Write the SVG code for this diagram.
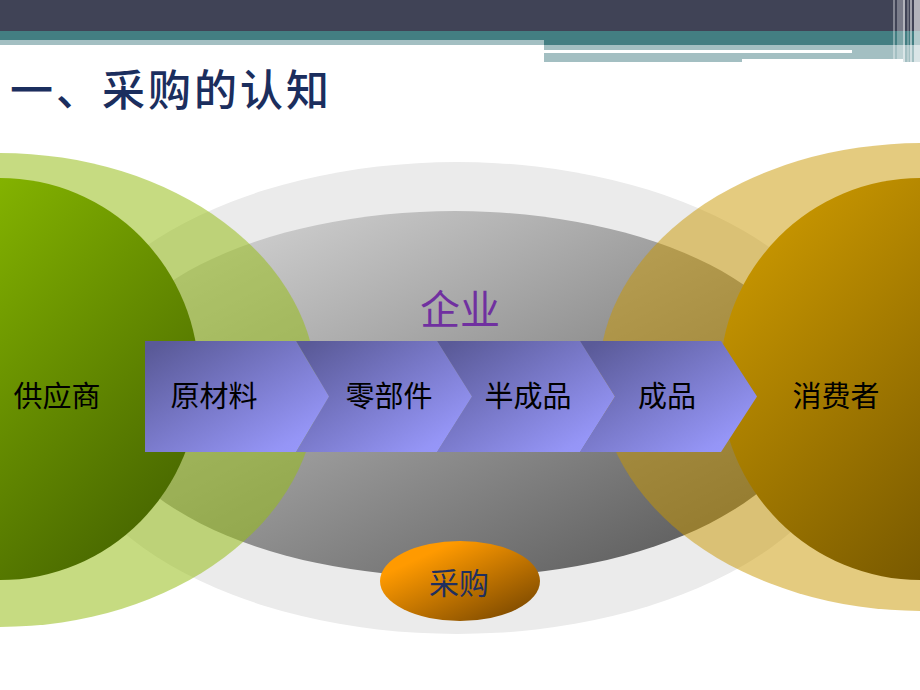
<svg xmlns="http://www.w3.org/2000/svg" width="920" height="690" viewBox="0 0 920 690">
<defs>
<linearGradient id="gGreen" x1="0" y1="0" x2="1" y2="1"><stop offset="0.15" stop-color="#8CBE00"/><stop offset="1" stop-color="#3E5A00"/></linearGradient>
<linearGradient id="gGold" x1="0" y1="0" x2="1" y2="1"><stop offset="0.1" stop-color="#C99700"/><stop offset="1" stop-color="#5A4200"/></linearGradient>
<linearGradient id="gGray" x1="0" y1="0" x2="1" y2="1"><stop offset="0.15" stop-color="#CACACA"/><stop offset="1" stop-color="#4E4E4E"/></linearGradient>
<linearGradient id="gChev" x1="0" y1="0" x2="1" y2="1"><stop offset="0.05" stop-color="#5A5A98"/><stop offset="0.85" stop-color="#9595F6"/><stop offset="1" stop-color="#9999FF"/></linearGradient>
<linearGradient id="gOrange" x1="0.15" y1="0.15" x2="0.9" y2="0.95"><stop offset="0.1" stop-color="#FF9A00"/><stop offset="1" stop-color="#7A4800"/></linearGradient>
<style>
.lbl{font-family:"Noto Sans CJK SC","Noto Sans CJK JP",sans-serif;font-size:29px;fill:#000;text-anchor:middle}
.chev{fill:url(#gChev)}
</style>
</defs>
<rect width="920" height="690" fill="#FFFFFF"/>
<g id="header">
<rect x="0" y="0" width="920" height="31" fill="#404356"/>
<rect x="0" y="31" width="920" height="14" fill="#437E82"/>
<rect x="0" y="40" width="544" height="5" fill="#A3BFC2"/>
<rect x="544" y="45" width="376" height="17" fill="#A3BFC2"/>
<rect x="544" y="50" width="308" height="3" fill="#FFFFFF"/>
<rect x="742" y="59" width="161" height="3" fill="#FFFFFF"/>
<rect x="893" y="0" width="2" height="62" fill="#FFFFFF" opacity="0.35"/>
<rect x="897" y="0" width="6" height="62" fill="#FFFFFF" opacity="0.3"/>
<rect x="903" y="0" width="2" height="62" fill="#FFFFFF" opacity="0.6"/>
<rect x="907" y="0" width="2" height="62" fill="#FFFFFF" opacity="0.25"/>
<rect x="910" y="0" width="2" height="62" fill="#FFFFFF" opacity="0.5"/>
<rect x="914" y="0" width="6" height="62" fill="#FFFFFF" opacity="0.6"/>
</g>
<text id="title" x="10" y="106" font-family="Noto Sans CJK SC, sans-serif" font-size="43" font-weight="500" letter-spacing="3" fill="#1B2E5E">一、采购的认知</text>
<g id="enterprise">
<ellipse cx="457" cy="398" rx="406" ry="236" fill="#EBEBEB"/>
<ellipse cx="455" cy="394" rx="360" ry="183" fill="url(#gGray)"/>
<text x="460" y="324" font-family="Noto Sans CJK SC, sans-serif" font-size="40" fill="#7030A0" text-anchor="middle">企业</text>
</g>
<g id="supplier">
<ellipse cx="0" cy="390" rx="317" ry="237" fill="#97BE1A" opacity="0.55"/>
<ellipse cx="0" cy="379" rx="199" ry="201" fill="url(#gGreen)"/>
<text class="lbl" x="57" y="407">供应商</text>
</g>
<g id="consumer">
<ellipse cx="922" cy="377" rx="323" ry="234" fill="#C99700" opacity="0.5"/>
<ellipse cx="921" cy="379" rx="201" ry="201" fill="url(#gGold)"/>
<text class="lbl" x="836" y="407">消费者</text>
</g>
<g id="connectors">
<g id="chev1"><path class="chev" d="M145,341 L296,341 L329,396.5 L296,452 L145,452 Z"/><text class="lbl" x="214" y="407">原材料</text></g>
<g id="chev2"><path class="chev" d="M296,341 L437,341 L472,396.5 L437,452 L296,452 L329,396.5 Z"/><text class="lbl" x="389" y="407">零部件</text></g>
<g id="chev3"><path class="chev" d="M437,341 L580,341 L615,396.5 L580,452 L437,452 L472,396.5 Z"/><text class="lbl" x="528" y="407">半成品</text></g>
<g id="chev4"><path class="chev" d="M580,341 L721,341 L757,396.5 L721,452 L580,452 L615,396.5 Z"/><text class="lbl" x="667" y="407">成品</text></g>
</g>
<g id="purchase">
<ellipse cx="460" cy="581" rx="80" ry="40" fill="url(#gOrange)"/>
<text x="459" y="594" font-family="Noto Sans CJK SC, sans-serif" font-size="30" fill="#1F2F5F" text-anchor="middle">采购</text>
</g>
</svg>
